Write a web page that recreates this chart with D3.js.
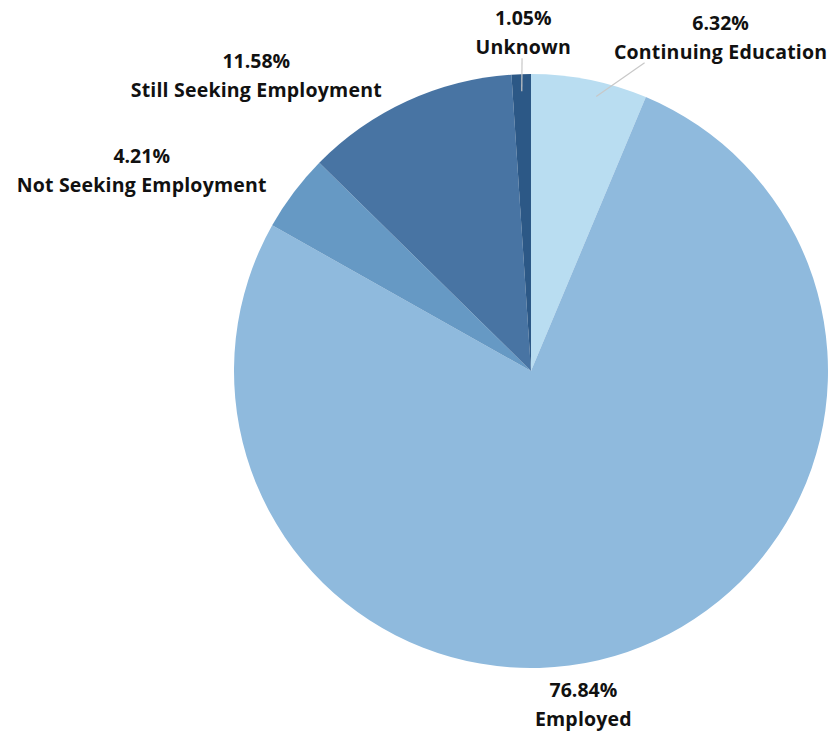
<!DOCTYPE html>
<html>
<head>
<meta charset="utf-8">
<script src="https://cdn.jsdelivr.net/npm/d3@7"></script>
<style>
  body { margin: 0; background: #fff; }
  svg { display: block; }
  text { font-family: "Open Sans", sans-serif; font-weight: 700; fill: #111; }
</style>
</head>
<body>
<svg id="chart" width="835" height="731"></svg>
<script>
'use strict';

// slices, clockwise from 12 o'clock
const categories = ['Continuing Education', 'Employed', 'Not Seeking Employment', 'Still Seeking Employment', 'Unknown'];
const shares = [6.32, 76.84, 4.21, 11.58, 1.05];
const percentLabels = ['6.32%', '76.84%', '4.21%', '11.58%', '1.05%'];
const colors = ['#b9ddf1', '#8fbadd', '#6699c4', '#4874a3', '#2c5886'];

// label placement relative to slice edge (dx, dy of label centre)
const labelOffsets = [
  {dx: 131, dy: -43, leader: true},
  {dx: -44, dy: 52, leader: false},
  {dx: -152, dy: -22, leader: false},
  {dx: -151, dy: -26, leader: false},
  {dx: 2, dy: -42, leader: true}
];

const svg = d3.select('#chart');
const cx = 531, cy = 371, radius = 297;

const data = categories.map((c, i) => ({name: c, value: shares[i], pct: percentLabels[i], color: colors[i], off: labelOffsets[i]}));

const pie = d3.pie().sort(null).value(d => d.value);
const arc = d3.arc().innerRadius(0).outerRadius(radius);
const arcs = pie(data);

const g = svg.append('g').attr('transform', `translate(${cx},${cy})`);

g.selectAll('path.slice')
  .data(arcs)
  .join('path')
  .attr('class', 'slice')
  .attr('d', arc)
  .attr('fill', d => d.data.color);

// point on the rim at the middle angle of a slice
function rim(d, r) {
  const a = (d.startAngle + d.endAngle) / 2;
  return [Math.sin(a) * r, -Math.cos(a) * r];
}

// leader lines for the small slices at the top
g.selectAll('line.leader')
  .data(arcs.filter(d => d.data.off.leader))
  .join('line')
  .attr('class', 'leader')
  .attr('x1', d => rim(d, radius - 17)[0] + (d.index === 0 ? 10 : 0))
  .attr('y1', d => rim(d, radius - 17)[1])
  .attr('x2', d => rim(d, radius)[0] + d.data.off.dx * 0.42)
  .attr('y2', d => rim(d, radius)[1] + d.data.off.dy + 26)
  .attr('stroke', '#c8c8c8')
  .attr('stroke-width', 1.2);

const labels = g.selectAll('g.label')
  .data(arcs)
  .join('g')
  .attr('class', 'label')
  .attr('transform', d => {
    const p = rim(d, radius);
    return `translate(${p[0] + d.data.off.dx},${p[1] + d.data.off.dy})`;
  });

labels.append('text')
  .attr('text-anchor', 'middle')
  .attr('y', -7)
  .style('font-size', '19.5px')
  .text(d => d.data.pct);

labels.append('text')
  .attr('text-anchor', 'middle')
  .attr('y', 22)
  .style('font-size', '19.5px')
  .style('letter-spacing', '0.2px')
  .text(d => d.data.name);
</script>
</body>
</html>
